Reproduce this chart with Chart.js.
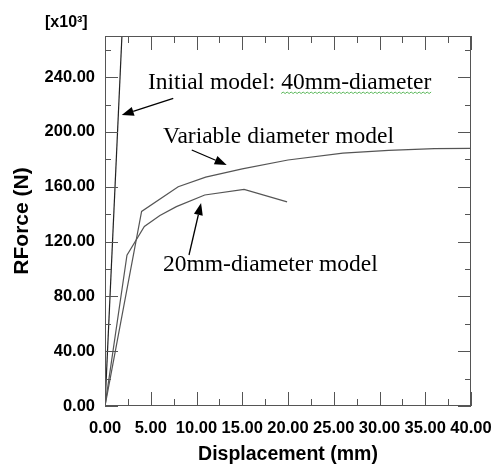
<!DOCTYPE html>
<html><head><meta charset="utf-8">
<script src="https://cdn.jsdelivr.net/npm/chart.js@4/dist/chart.umd.min.js"></script>
<style>html,body{margin:0;padding:0;background:#fff}#wrap{width:494px;height:470px;position:relative}</style>
</head><body><div id="wrap"><canvas id="c" width="494" height="470"></canvas></div>
<script>
// ---- data (displacement in mm, force in x10^3 N) ----
const initialX = [0, 2.0];
const initialY = [0, 292];
const variableX = [0, 4.0, 8.0, 11.0, 15.0, 20.0, 26.0, 31.0, 36.0, 40.0];
const variableY = [0, 142, 160, 167, 173, 179.5, 184.5, 186.5, 187.8, 188];
const d20X = [0, 2.4, 4.3, 6.0, 7.8, 10.9, 15.2, 19.9];
const d20Y = [0, 110, 131, 139, 145.5, 154, 158, 149];

const xTicks = [0, 5, 10, 15, 20, 25, 30, 35, 40];
const xMinor = [2.5, 7.5, 12.5, 17.5, 22.5, 27.5, 32.5, 37.5];
const yTicks = [0, 40, 80, 120, 160, 200, 240];
const yMinor = [20, 60, 100, 140, 180, 220, 260];

const labelTexts = ['Initial model: 40mm-diameter', 'Variable diameter model', '20mm-diameter model'];
const labelX = [4.70, 6.34, 6.34];
const labelY = [231.3, 191.9, 98.5];
const arrowFromX = [7.46, 9.48, 9.18];
const arrowFromY = [224.5, 186.8, 110.2];
const arrowToX = [1.83, 13.3, 10.5];
const arrowToY = [212.3, 175.9, 148.1];

const pts = (xs, ys) => xs.map((x, i) => ({x, y: ys[i]}));

const deco = {
  id: 'deco',
  afterDraw(chart) {
    const {ctx, chartArea: a, scales: {x, y}} = chart;
    ctx.save();
    ctx.strokeStyle = '#555';
    ctx.lineWidth = 1;
    ctx.strokeRect(a.left + 0.5, a.top + 0.5, a.right - a.left - 1, a.bottom - a.top - 1);
    const line = (x1, y1, x2, y2) => { ctx.beginPath(); ctx.moveTo(x1, y1); ctx.lineTo(x2, y2); ctx.stroke(); };
    xTicks.forEach(v => { const p = Math.round(x.getPixelForValue(v)) + 0.5; line(p, a.bottom, p, a.bottom - 14); line(p, a.top, p, a.top + 14); });
    xMinor.forEach(v => { const p = Math.round(x.getPixelForValue(v)) + 0.5; line(p, a.bottom, p, a.bottom - 7); line(p, a.top, p, a.top + 7); });
    yTicks.forEach(v => { const p = Math.round(y.getPixelForValue(v)) + 0.5; line(a.left, p, a.left + 13, p); line(a.right, p, a.right - 13, p); });
    yMinor.forEach(v => { const p = Math.round(y.getPixelForValue(v)) + 0.5; line(a.left, p, a.left + 6, p); line(a.right, p, a.right - 6, p); });

    ctx.fillStyle = '#000';
    ctx.font = "bold 16px 'Liberation Sans'";
    ctx.textBaseline = 'alphabetic';
    ctx.textAlign = 'left';
    ctx.fillText('[x10³]', 45, 27);

    ctx.font = "23.5px 'Liberation Serif'";
    labelTexts.forEach((t, i) => {
      ctx.fillText(t, x.getPixelForValue(labelX[i]), y.getPixelForValue(labelY[i]));
    });
    {
      const sx = x.getPixelForValue(labelX[0]) + ctx.measureText('Initial model: ').width;
      const ex = x.getPixelForValue(labelX[0]) + ctx.measureText(labelTexts[0]).width;
      const sy = y.getPixelForValue(labelY[0]) + 4.5;
      ctx.strokeStyle = '#5cb85c';
      ctx.lineWidth = 1;
      ctx.beginPath();
      let up = true;
      ctx.moveTo(sx, sy);
      for (let px = sx + 2; px <= ex; px += 2) { ctx.lineTo(px, up ? sy - 1.5 : sy); up = !up; }
      ctx.stroke();
    }
    ctx.strokeStyle = '#000';
    ctx.fillStyle = '#000';
    ctx.lineWidth = 1.3;
    arrowFromX.forEach((fx, i) => {
      const x1 = x.getPixelForValue(fx), y1 = y.getPixelForValue(arrowFromY[i]);
      const x2 = x.getPixelForValue(arrowToX[i]), y2 = y.getPixelForValue(arrowToY[i]);
      const ang = Math.atan2(y2 - y1, x2 - x1);
      const L = 12, W = 4.5;
      const bx = x2 - L * Math.cos(ang), by = y2 - L * Math.sin(ang);
      line(x1, y1, bx, by);
      ctx.beginPath();
      ctx.moveTo(x2, y2);
      ctx.lineTo(bx + W * Math.sin(ang), by - W * Math.cos(ang));
      ctx.lineTo(bx - W * Math.sin(ang), by + W * Math.cos(ang));
      ctx.closePath();
      ctx.fill();
    });
    ctx.restore();
  }
};

new Chart(document.getElementById('c'), {
  type: 'scatter',
  data: {
    datasets: [
      {label: 'Initial model: 40mm-diameter', data: pts(initialX, initialY), showLine: true, borderColor: '#222', borderWidth: 1.2, pointRadius: 0},
      {label: 'Variable diameter model', data: pts(variableX, variableY), showLine: true, borderColor: '#555', borderWidth: 1.2, pointRadius: 0},
      {label: '20mm-diameter model', data: pts(d20X, d20Y), showLine: true, borderColor: '#555', borderWidth: 1.2, pointRadius: 0}
    ]
  },
  options: {
    responsive: false,
    animation: false,
    layout: {padding: {left: 0, right: 23, top: 36, bottom: 0}},
    plugins: {legend: {display: false}, tooltip: {enabled: false}},
    scales: {
      x: {
        type: 'linear', min: 0, max: 40,
        afterBuildTicks: s => { s.ticks = xTicks.map(v => ({value: v})); },
        afterFit: s => { s.height = 64; s.paddingLeft = 0; s.paddingRight = 0; },
        grid: {display: false, drawTicks: false},
        border: {display: false},
        ticks: {autoSkip: false, maxRotation: 0, padding: 13, color: '#000',
          font: {family: 'Liberation Sans', weight: 'bold', size: 16.5},
          callback: v => Number(v).toFixed(2)},
        title: {display: true, text: 'Displacement (mm)', color: '#000',
          font: {family: 'Liberation Sans', weight: 'bold', size: 19.5}, padding: {top: 0, bottom: 4}}
      },
      y: {
        type: 'linear', min: 0, max: 270,
        afterBuildTicks: s => { s.ticks = yTicks.map(v => ({value: v})); },
        afterFit: s => { s.width = 105; s.paddingTop = 0; s.paddingBottom = 0; },
        grid: {display: false, drawTicks: false},
        border: {display: false},
        ticks: {autoSkip: false, padding: 10, color: '#000',
          font: {family: 'Liberation Sans', weight: 'bold', size: 16.5},
          callback: v => Number(v).toFixed(2)},
        title: {display: true, text: 'RForce (N)', color: '#000',
          font: {family: 'Liberation Sans', weight: 'bold', size: 21}, padding: {top: 10, bottom: 0}}
      }
    }
  },
  plugins: [deco]
});
</script>
</body></html>
